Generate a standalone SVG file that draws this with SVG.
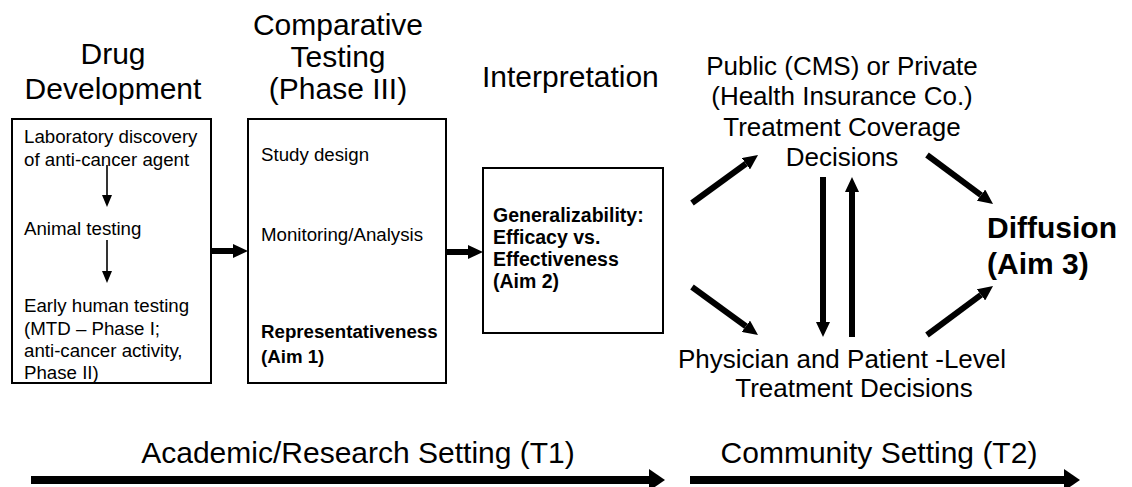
<svg xmlns="http://www.w3.org/2000/svg" width="1132" height="487" viewBox="0 0 1132 487">
  <style>
    text { font-family: "Liberation Sans", Arial, sans-serif; fill: #000; }
    .title { font-size: 30px; }
    .right { font-size: 26px; }
    .body { font-size: 18.7px; }
    .body-lg { font-size: 19.5px; }
    .bold { font-weight: bold; }
    .box { fill: #fff; stroke: #000; stroke-width: 2; }
    .thick { stroke: #000; stroke-width: 6; fill: none; marker-end: url(#head); }
    .thin { stroke: #000; stroke-width: 1.6; fill: none; marker-end: url(#thinhead); }
    .setting { stroke: #000; stroke-width: 8; fill: none; marker-end: url(#bighead); }
  </style>
  <defs>
    <marker id="head" markerUnits="userSpaceOnUse" markerWidth="15" markerHeight="14" refX="0" refY="7" orient="auto">
      <path d="M0,0 L15,7 L0,14 z" fill="#000"/>
    </marker>
    <marker id="thinhead" markerUnits="userSpaceOnUse" markerWidth="12" markerHeight="10" refX="0" refY="5" orient="auto">
      <path d="M0,0 L12,5 L0,10 z" fill="#000"/>
    </marker>
    <marker id="bighead" markerUnits="userSpaceOnUse" markerWidth="16" markerHeight="22" refX="0" refY="11" orient="auto">
      <path d="M0,0 L16,11 L0,22 z" fill="#000"/>
    </marker>
  </defs>

  <rect width="1132" height="487" fill="#fff"/>

  <!-- column headings -->
  <g id="heading-drug-development">
    <text class="title" x="113" y="64" text-anchor="middle">Drug</text>
    <text class="title" x="113" y="99" text-anchor="middle">Development</text>
  </g>
  <g id="heading-comparative-testing">
    <text class="title" x="338" y="35" text-anchor="middle">Comparative</text>
    <text class="title" x="338" y="67" text-anchor="middle">Testing</text>
    <text class="title" x="338" y="99" text-anchor="middle">(Phase III)</text>
  </g>
  <g id="heading-interpretation">
    <text class="title" x="482" y="87">Interpretation</text>
  </g>

  <!-- drug development box -->
  <g id="node-drug-development">
    <rect class="box" x="12" y="119" width="199" height="264"/>
    <text class="body" x="24" y="143">Laboratory discovery</text>
    <text class="body" x="24" y="166">of anti-cancer agent</text>
    <text class="body" x="24" y="235">Animal testing</text>
    <text class="body" x="24" y="312">Early human testing</text>
    <text class="body" x="24" y="335">(MTD – Phase I;</text>
    <text class="body" x="24" y="357">anti-cancer activity,</text>
    <text class="body" x="24" y="379">Phase II)</text>
  </g>

  <!-- comparative testing box -->
  <g id="node-comparative-testing">
    <rect class="box" x="248" y="119" width="198" height="264"/>
    <text class="body" x="261" y="161">Study design</text>
    <text class="body" x="261" y="241">Monitoring/Analysis</text>
    <text class="body bold" x="261" y="338">Representativeness</text>
    <text class="body bold" x="261" y="363">(Aim 1)</text>
  </g>

  <!-- interpretation box -->
  <g id="node-interpretation">
    <rect class="box" x="483" y="168" width="180" height="165"/>
    <text class="body-lg bold" x="493" y="222">Generalizability:</text>
    <text class="body-lg bold" x="493" y="244">Efficacy vs.</text>
    <text class="body-lg bold" x="493" y="266">Effectiveness</text>
    <text class="body-lg bold" x="493" y="288">(Aim 2)</text>
  </g>

  <g id="node-coverage-decisions">
    <text class="right" x="842" y="75" text-anchor="middle">Public (CMS) or Private</text>
    <text class="right" x="842" y="105" text-anchor="middle">(Health Insurance Co.)</text>
    <text class="right" x="842" y="136" text-anchor="middle">Treatment Coverage</text>
    <text class="right" x="842" y="166" text-anchor="middle">Decisions</text>
  </g>

  <g id="node-treatment-decisions">
    <text class="right" x="842" y="368" text-anchor="middle">Physician and Patient -Level</text>
    <text class="right" x="854" y="397" text-anchor="middle">Treatment Decisions</text>
  </g>

  <g id="node-diffusion">
    <text class="title bold" x="987" y="238">Diffusion</text>
    <text class="title bold" x="987" y="274">(Aim 3)</text>
  </g>

  <g id="label-academic-setting">
    <text class="title" x="358" y="463" text-anchor="middle">Academic/Research Setting (T1)</text>
  </g>
  <g id="label-community-setting">
    <text class="title" x="879" y="463" text-anchor="middle">Community Setting (T2)</text>
  </g>

  <!-- connectors -->
  <g id="connectors">
    <line class="thin" x1="107" y1="165" x2="107" y2="195"/>
    <line class="thin" x1="107" y1="240" x2="107" y2="271"/>

    <line class="thick" x1="211" y1="251" x2="233" y2="251"/>
    <line class="thick" x1="446" y1="252" x2="468" y2="252"/>

    <line class="thick" x1="692" y1="203" x2="745.9" y2="163.8"/>
    <line class="thick" x1="692" y1="287" x2="745.9" y2="326.2"/>
    <line class="thick" x1="823" y1="177" x2="823" y2="322"/>
    <line class="thick" x1="852" y1="337" x2="852" y2="192"/>
    <line class="thick" x1="927" y1="155" x2="981" y2="195.1"/>
    <line class="thick" x1="927" y1="335" x2="981" y2="294.9"/>

    <line class="setting" x1="31" y1="480" x2="649" y2="480"/>
    <line class="setting" x1="690" y1="480" x2="1064" y2="480"/>
  </g>
</svg>
